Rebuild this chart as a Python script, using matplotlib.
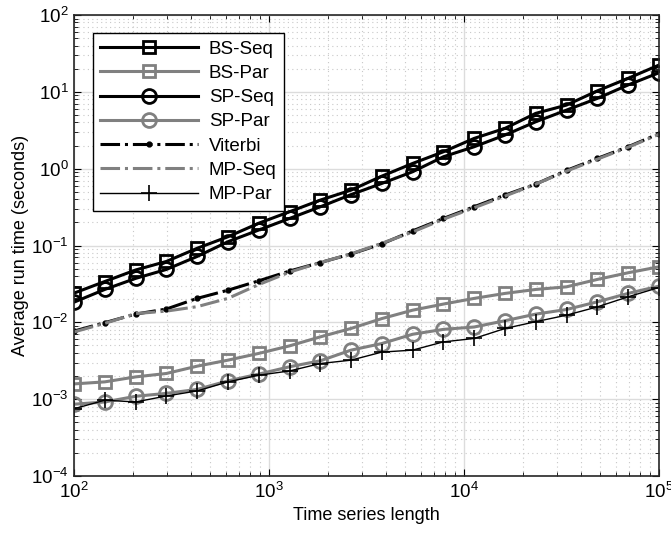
import matplotlib.pyplot as plt
import numpy as np

plt.rcParams['font.family'] = ['Liberation Sans', 'DejaVu Sans']
plt.rcParams['mathtext.fontset'] = 'custom'
plt.rcParams['mathtext.rm'] = 'Liberation Sans'
plt.rcParams['mathtext.it'] = 'Liberation Sans'

# time series lengths
n = [100, 143.8, 206.9, 297.6, 428.1, 615.8, 885.9, 1274.3, 1833.0, 2636.7,
     3792.7, 5455.6, 7847.6, 11288, 16238, 23357, 33598, 48329, 69519, 100000]

bs_seq = [0.024, 0.034, 0.048, 0.062, 0.092, 0.13, 0.195, 0.275, 0.39, 0.526,
          0.80, 1.17, 1.66, 2.48, 3.35, 5.25, 6.73, 10.3, 15.0, 22.3]
bs_par = [0.00158, 0.00168, 0.00195, 0.00216, 0.00269, 0.00322, 0.00394, 0.00494, 0.00647, 0.00833,
          0.0112, 0.0144, 0.0173, 0.0205, 0.0238, 0.0268, 0.0290, 0.0362, 0.0442, 0.0528]
sp_seq = [0.0183, 0.0268, 0.0373, 0.0488, 0.072, 0.112, 0.159, 0.225, 0.319, 0.46,
          0.643, 0.912, 1.43, 1.93, 2.74, 4.08, 5.79, 8.22, 12.3, 17.7]
sp_par = [0.00086, 0.00092, 0.00109, 0.00119, 0.00134, 0.00173, 0.00212, 0.00264, 0.00316, 0.00435,
          0.0053, 0.0070, 0.0081, 0.0087, 0.0105, 0.0128, 0.0147, 0.0185, 0.0238, 0.0296]
viterbi = [0.0077, 0.0099, 0.0128, 0.0149, 0.0205, 0.0262, 0.0347, 0.0465, 0.060, 0.0775,
           0.105, 0.155, 0.225, 0.32, 0.453, 0.63, 0.95, 1.36, 1.93, 2.85]
mp_seq = [0.0075, 0.0097, 0.0130, 0.0140, 0.0160, 0.0205, 0.031, 0.045, 0.060, 0.078,
          0.107, 0.150, 0.22, 0.31, 0.44, 0.63, 0.93, 1.33, 1.90, 2.80]
mp_par = [0.00075, 0.00097, 0.00092, 0.0011, 0.00128, 0.00168, 0.00205, 0.00233, 0.00291, 0.00322,
          0.0041, 0.00435, 0.00557, 0.00617, 0.00832, 0.0102, 0.0124, 0.0159, 0.0215, 0.0284]

grey = '#808080'

fig = plt.figure(figsize=(6.71, 5.4), dpi=100)
ax = fig.add_axes([0.1103, 0.1185, 0.8717, 0.8537])

ax.plot(n, bs_seq, '-s', color='k', lw=2.2, ms=8, mew=2, mfc='none', label='BS-Seq')
ax.plot(n, bs_par, '-s', color=grey, lw=2.2, ms=8, mew=2, mfc='none', label='BS-Par')
ax.plot(n, sp_seq, '-o', color='k', lw=2.2, ms=10, mew=2, mfc='none', label='SP-Seq')
ax.plot(n, sp_par, '-o', color=grey, lw=2.2, ms=10, mew=2, mfc='none', label='SP-Par')
ax.plot(n, viterbi, '-.', marker='.', color='k', lw=2.2, ms=7, label='Viterbi')
ax.plot(n, mp_seq, '-.', color=grey, lw=2.2, label='MP-Seq')
ax.plot(n, mp_par, '-+', color='k', lw=1.0, ms=12, mew=1.2, label='MP-Par')

ax.set_xscale('log')
ax.set_yscale('log')
ax.set_xlim(1e2, 1e5)
ax.set_ylim(1e-4, 1e2)

ax.grid(True, which='major', color='#dcdcdc', linestyle='-', linewidth=1)
ax.grid(True, which='minor', color='#c8c8c8', linestyle=(0, (1, 3)), linewidth=0.8)
ax.set_axisbelow(True)
ax.tick_params(which='both', direction='in', top=True, right=True, labelsize=13.5)
ax.tick_params(which='major', length=5, pad=4)
ax.tick_params(which='minor', length=3)
for s in ax.spines.values():
    s.set_linewidth(1.2)
    s.set_color('#262626')

ax.set_xlabel('Time series length', fontsize=13)
ax.set_ylabel('Average run time (seconds)', fontsize=13, labelpad=1)

leg = ax.legend(loc='upper left', bbox_to_anchor=(0.032, 0.961), borderaxespad=0,
                fontsize=13.5, handlelength=5.2, fancybox=False, framealpha=1,
                edgecolor='k', labelspacing=0.38, handletextpad=0.6)
leg.get_frame().set_linewidth(1.0)

plt.savefig('out.png', dpi=100)
